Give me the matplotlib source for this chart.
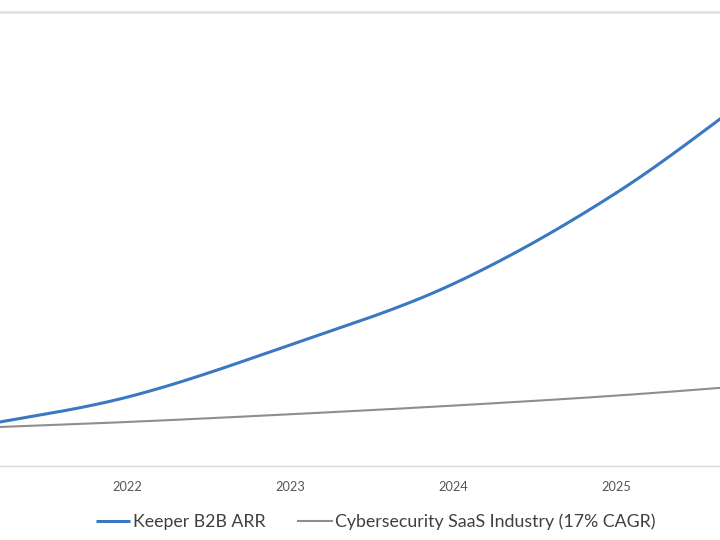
import numpy as np
import matplotlib.pyplot as plt

years = [2021, 2022, 2023, 2024, 2025, 2026]
keeper_arr = [8.3, 15.2, 26.7, 40.1, 60.1, 86.0]
industry = [8.3, 9.7, 11.4, 13.3, 15.5, 18.2]
tick_years = [2022, 2023, 2024, 2025]

plt.rcParams['font.family'] = ['Lato', 'DejaVu Sans']


def smooth(xs, ys, n=40):
    # catmull-rom curve through the points, like Excel's smoothed line
    xs = np.asarray(xs, float)
    ys = np.asarray(ys, float)
    px = np.concatenate([[2 * xs[0] - xs[1]], xs, [2 * xs[-1] - xs[-2]]])
    py = np.concatenate([[2 * ys[0] - ys[1]], ys, [2 * ys[-1] - ys[-2]]])
    outx, outy = [], []
    t = np.linspace(0, 1, n)
    for i in range(1, len(px) - 2):
        for p, out in ((px, outx), (py, outy)):
            p0, p1, p2, p3 = p[i - 1], p[i], p[i + 1], p[i + 2]
            out.extend(0.5 * (2 * p1 + (-p0 + p2) * t
                              + (2 * p0 - 5 * p1 + 4 * p2 - p3) * t ** 2
                              + (-p0 + 3 * p1 - 3 * p2 + p3) * t ** 3))
    return np.array(outx), np.array(outy)


fig = plt.figure(figsize=(7.2, 5.4), dpi=100)
ax = fig.add_axes([0, 74 / 540, 1, 454 / 540])

bx, by = smooth(years, keeper_arr)
gx, gy = smooth(years, industry)
ax.plot(bx, by, color='#3b78c2', lw=2.2, label='Keeper B2B ARR', solid_capstyle='butt')
ax.plot(gx, gy, color='#8e8e8e', lw=1.5, label='Cybersecurity SaaS Industry (17% CAGR)')

ax.set_xlim(2021.215, 2025.64)
ax.set_ylim(0, 100)
ax.axhline(100, color='#e3e3e3', lw=2, clip_on=False)

for s in ['top', 'left', 'right']:
    ax.spines[s].set_visible(False)
ax.spines['bottom'].set_color('#d9d9d9')
ax.spines['bottom'].set_linewidth(1)

ax.set_yticks([])
ax.set_xticks(tick_years)
ax.set_xticklabels([str(y) for y in tick_years], fontsize=9.2, color='#555555')
ax.tick_params(axis='x', length=0, pad=11)

fig.legend(loc='center', bbox_to_anchor=(0.522, 0.033), ncol=2, frameon=False,
           fontsize=12.8, handlelength=1.9, handletextpad=0.2, columnspacing=1.8,
           labelcolor='#404040')

fig.savefig('out.png', dpi=100)
